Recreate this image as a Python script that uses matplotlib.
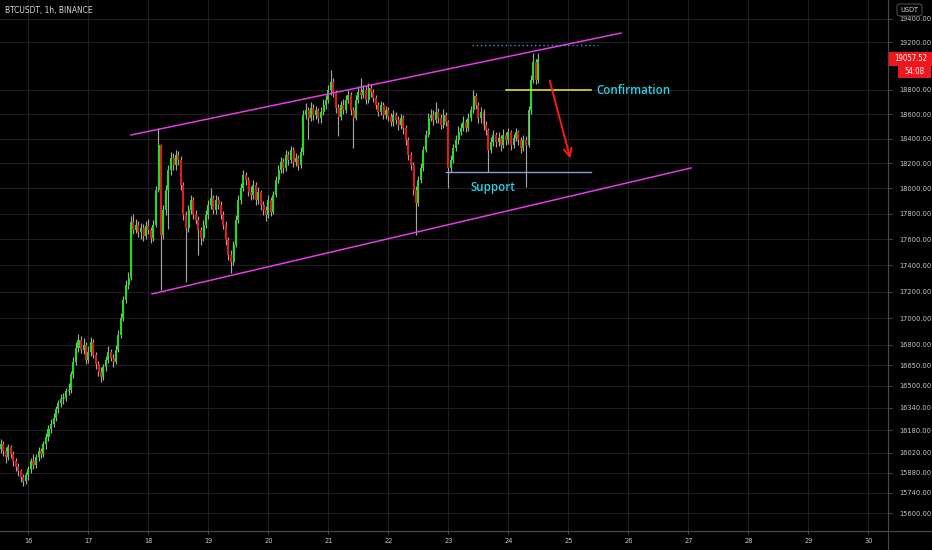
import numpy as np
import matplotlib
matplotlib.use("Agg")
import matplotlib.pyplot as plt
from matplotlib import font_manager
from matplotlib.font_manager import FontProperties
from matplotlib.lines import Line2D
from matplotlib.patches import Rectangle, FancyBboxPatch
from matplotlib.ticker import NullLocator

# ---------------- data ----------------
first_open = 16010
closes = [
    16044, 16079, 16030, 15988, 16058, 16009, 15960, 15918, 15890, 15848,
    15820, 15862, 15904, 15960, 15932, 15988, 16030, 16009, 16079, 16129,
    16186, 16228, 16271, 16329, 16372, 16401, 16415, 16459, 16473, 16583,
    16677, 16781, 16840, 16766, 16803, 16692, 16751, 16825, 16729, 16656,
    16604, 16561, 16634, 16692, 16751, 16707, 16677, 16766, 16877, 17004,
    17139, 17252, 17305, 17737, 17675, 17714, 17659, 17690, 17628, 17706,
    17675, 17613, 17714, 17989, 18349, 17636, 17831, 17989, 18148, 18244,
    18188, 18268, 18228, 18028, 17792, 17690, 17831, 17910, 17792, 17753,
    17675, 17613, 17714, 17792, 17870, 17926, 17831, 17910, 17870, 17792,
    17714, 17597, 17481, 17428, 17558, 17753, 17910, 18005, 18108, 18068,
    17973, 17949, 18028, 17910, 17973, 17870, 17831, 17792, 17910, 17815,
    17949, 18068, 18148, 18212, 18164, 18268, 18228, 18308, 18212, 18244,
    18188, 18292, 18593, 18633, 18568, 18649, 18593, 18633, 18568, 18617,
    18674, 18716, 18798, 18864, 18781, 18649, 18576, 18674, 18633, 18716,
    18757, 18633, 18568, 18716, 18781, 18757, 18798, 18716, 18815, 18781,
    18732, 18674, 18617, 18674, 18593, 18633, 18576, 18536, 18593, 18552,
    18511, 18568, 18486, 18389, 18268, 18188, 17989, 17886, 18068, 18164,
    18308, 18430, 18568, 18593, 18552, 18617, 18568, 18511, 18593, 18536,
    18164, 18228, 18324, 18389, 18454, 18486, 18536, 18486, 18568, 18633,
    18749, 18674, 18568, 18617, 18511, 18470, 18308, 18373, 18430, 18373,
    18405, 18349, 18430, 18389, 18454, 18349, 18405, 18454, 18389, 18324,
    18389, 18349, 18633, 18881, 19031, 18881, 19057.52,
]
highs = [
    16090, 16120, 16100, 16060, 16085, 16075, 16030, 15985, 15950, 15905,
    15870, 15885, 15930, 15985, 16010, 16015, 16060, 16055, 16105, 16160,
    16215, 16260, 16300, 16355, 16400, 16440, 16450, 16485, 16520, 16610,
    16710, 16820, 16880, 16870, 16850, 16820, 16790, 16860, 16845, 16750,
    16680, 16640, 16660, 16720, 16790, 16770, 16735, 16800, 16910, 17040,
    17170, 17290, 17350, 17780, 17800, 17760, 17745, 17730, 17720, 17740,
    17760, 17700, 17750, 18020, 18486, 18360, 17870, 18030, 18190, 18290,
    18280, 18310, 18300, 18260, 18050, 17820, 17870, 17950, 17930, 17830,
    17780, 17700, 17750, 17830, 17910, 18000, 17950, 17950, 17940, 17900,
    17820, 17740, 17620, 17520, 17590, 17790, 17950, 18040, 18150, 18130,
    18090, 18020, 18070, 18050, 18010, 17990, 17900, 17860, 17950, 17930,
    17980, 18100, 18190, 18250, 18240, 18310, 18300, 18340, 18330, 18280,
    18270, 18330, 18630, 18690, 18660, 18700, 18680, 18670, 18650, 18660,
    18720, 18760, 18840, 18964, 18900, 18800, 18680, 18710, 18720, 18760,
    18800, 18780, 18660, 18760, 18830, 18900, 18840, 18830, 18860, 18850,
    18810, 18760, 18700, 18710, 18700, 18670, 18660, 18610, 18630, 18620,
    18580, 18600, 18590, 18510, 18410, 18290, 18210, 18020, 18100, 18200,
    18340, 18470, 18610, 18640, 18630, 18700, 18650, 18600, 18640, 18620,
    18550, 18270, 18360, 18430, 18500, 18530, 18580, 18560, 18610, 18670,
    18798, 18770, 18700, 18660, 18640, 18540, 18490, 18410, 18470, 18450,
    18450, 18430, 18480, 18450, 18490, 18470, 18440, 18490, 18470, 18410,
    18430, 18420, 18670, 18920, 19110, 19060, 19110,
]
lows = [
    15975, 16020, 15995, 15950, 15970, 15980, 15930, 15890, 15860, 15815,
    15785, 15800, 15830, 15880, 15905, 15915, 15965, 15980, 15990, 16050,
    16100, 16160, 16200, 16245, 16300, 16345, 16370, 16390, 16430, 16450,
    16560, 16650, 16750, 16740, 16730, 16660, 16670, 16720, 16700, 16620,
    16575, 16530, 16540, 16610, 16670, 16680, 16640, 16660, 16745, 16850,
    16980, 17110, 17220, 17290, 17640, 17650, 17620, 17600, 17590, 17600,
    17640, 17570, 17590, 17700, 17970, 17214, 17600, 17790, 17680, 18110,
    18150, 18150, 18190, 17990, 17750, 17275, 17660, 17800, 17760, 17720,
    17480, 17560, 17590, 17690, 17760, 17840, 17800, 17800, 17840, 17760,
    17680, 17560, 17440, 17344, 17400, 17540, 17730, 17880, 17980, 18030,
    17940, 17910, 17920, 17870, 17880, 17830, 17790, 17740, 17770, 17780,
    17800, 17930, 18040, 18120, 18120, 18140, 18190, 18200, 18170, 18180,
    18150, 18160, 18270, 18560, 18400, 18540, 18550, 18560, 18530, 18530,
    18590, 18640, 18690, 18760, 18740, 18610, 18420, 18550, 18600, 18610,
    18690, 18590, 18320, 18550, 18690, 18720, 18730, 18680, 18690, 18740,
    18700, 18640, 18580, 18590, 18560, 18560, 18540, 18500, 18500, 18520,
    18470, 18480, 18440, 18350, 18230, 18150, 17950, 17636, 17860, 18040,
    18140, 18290, 18410, 18540, 18510, 18530, 18530, 18480, 18490, 18500,
    18005, 18130, 18200, 18300, 18360, 18430, 18460, 18450, 18460, 18540,
    18610, 18640, 18530, 18530, 18470, 18430, 18132, 18280, 18340, 18330,
    18340, 18300, 18320, 18350, 18360, 18310, 18320, 18380, 18350, 18280,
    18300, 18013, 18330, 18600, 18860, 18850, 18860,
]
start_day = 15.5          # Nov 15, 12:00, one candle per hour
price_ticks = [15600, 15740, 15880, 16020, 16180, 16340, 16500, 16650, 16800,
               17000, 17200, 17400, 17600, 17800, 18000, 18200, 18400, 18600,
               18800, 19200, 19400]
day_ticks = list(range(16, 31))
day_labels = [str(d) for d in day_ticks]

# drawings (day, price)
upper_channel = [(17.708, 18429), (25.875, 19276)]
lower_channel = [(18.058, 17182), (27.042, 18163)]
top_dotted = [(23.392, 19175), (25.492, 19175)]
confirm_line = [(23.958, 18798), (25.375, 18798)]
support_line = [(22.958, 18132), (25.375, 18132)]
arrow_pts = [(24.675, 18898), (25.042, 18219)]

# ---------------- fonts ----------------
def pick_narrow():
    cands = []
    for f in font_manager.fontManager.ttflist:
        nm = f.name.lower()
        fn = f.fname.lower()
        narrowish = (f.stretch in ("condensed", "semi-condensed", "extra-condensed")
                     or "narrow" in nm or "condensed" in nm
                     or "condensed" in fn or "narrow" in fn)
        if not narrowish or f.style != "normal":
            continue
        if "serif" in nm or "serif" in fn or "mono" in nm or "mono" in fn:
            continue
        if "sans" not in nm:
            continue
        w = f.weight
        if w not in (400, "normal", "regular", "book"):
            continue
        if "bold" in fn or "light" in fn or "medium" in fn or "thin" in fn \
                or "black" in fn or "semi" in fn.replace("semicondensed", "") \
                or "oblique" in fn or "italic" in fn:
            continue
        if "dejavu" in nm:
            score = 3
        elif "liberation" in nm:
            score = 2
        elif "noto sans" in nm and "cjk" not in nm:
            score = 1
        else:
            continue
        cands.append((score, f.fname))
    if cands:
        cands.sort(reverse=True)
        return cands[0][1]
    return None

narrow_file = pick_narrow()
if narrow_file:
    def nfp(size):
        return FontProperties(fname=narrow_file, size=size)
    tick_size = 5.3
else:
    def nfp(size):
        return FontProperties(family="DejaVu Sans", size=size)
    tick_size = 4.8

# ---------------- figure ----------------
W, H = 932, 550
fig = plt.figure(figsize=(W / 100, H / 100), dpi=100, facecolor="black")
ax = fig.add_axes([0, 20 / H, 888 / W, 530 / H], facecolor="black")

n = min(len(closes), len(highs), len(lows))
closes_a = np.array(closes[:n], dtype=float)
highs_a = np.array(highs[:n], dtype=float)
lows_a = np.array(lows[:n], dtype=float)
opens_a = np.concatenate([[first_open], closes_a[:-1]])
t = start_day + np.arange(n) / 24.0

up = closes_a >= opens_a
green, red, wick = "#1fe01f", "#e5191c", "#a5a5a5"
ax.vlines(t, lows_a, highs_a, color=wick, lw=0.85, zorder=2)
bottoms = np.minimum(opens_a, closes_a)
heights = np.maximum(np.abs(closes_a - opens_a), 3)
ax.bar(t, heights, bottom=bottoms, width=0.8 / 24,
       color=np.where(up, green, red), linewidth=0, zorder=3)

ax.set_yscale("log")
ax.set_ylim(15484, 19559)
ax.set_xlim(15.525, 30.325)

ax.yaxis.set_minor_locator(NullLocator())
ax.xaxis.set_minor_locator(NullLocator())
ax.yaxis.tick_right()
ax.set_yticks(price_ticks)
ax.set_yticklabels([f"{v:.2f}" for v in price_ticks])
ax.set_xticks(day_ticks)
ax.set_xticklabels(day_labels)
ax.tick_params(axis="both", colors="#555555", labelcolor="#c8c8c8",
               length=3, width=0.6, direction="out")
ax.tick_params(axis="y", pad=5)
ax.tick_params(axis="x", pad=3)
for lab in ax.get_yticklabels() + ax.get_xticklabels():
    lab.set_fontproperties(nfp(tick_size))
ax.grid(True, color="#1e1e1e", lw=0.8, zorder=0)
for s in ax.spines.values():
    s.set_visible(False)

# drawings
mag = "#e23de6"
ax.plot(*zip(*upper_channel), color=mag, lw=1.1, zorder=4)
ax.plot(*zip(*lower_channel), color=mag, lw=1.1, zorder=4)
ax.plot(*zip(*top_dotted), color="#4a8ee0", lw=1.0, ls=(0, (1, 2)), zorder=4)
ax.plot(*zip(*confirm_line), color="#f2f21c", lw=1.1, zorder=4)
ax.plot(*zip(*support_line), color="#7ea6d8", lw=1.0, zorder=4)
ax.annotate("", xy=arrow_pts[1], xytext=arrow_pts[0],
            arrowprops=dict(arrowstyle="->", color="#ff1a1a", lw=1.4,
                            mutation_scale=14), zorder=5)
ax.text(25.458, 18790, "Confirmation", color="#2ad4e6", fontsize=8.3,
        fontweight="semibold", family="Open Sans", va="center", ha="left", zorder=5)
ax.text(23.358, 18005, "Support", color="#2ad4e6", fontsize=8.3,
        fontweight="semibold", family="Open Sans", va="center", ha="left", zorder=5)

# frame lines
def fx(x):
    return x / W
def fy(y):
    return 1 - y / H
fig.add_artist(Line2D([fx(888), fx(888)], [0, 1], color="#4a4a4a", lw=0.8))
fig.add_artist(Line2D([0, 1], [fy(530.5), fy(530.5)], color="#4a4a4a", lw=0.8))

# title
fig.text(fx(5), fy(11), "BTCUSDT, 1h, BINANCE", color="#d8d8d8",
         fontproperties=nfp(6.0), va="center", ha="left")

# USDT box
fig.add_artist(FancyBboxPatch((fx(897), fy(16)), fx(25), 12 / H,
                              boxstyle="round,pad=0,rounding_size=0.004",
                              fc="black", ec="#555555", lw=0.7, zorder=6))
fig.text(fx(909.5), fy(10), "USDT", color="#d8d8d8", fontproperties=nfp(5.2),
         ha="center", va="center", zorder=7)

# last price label
last_disp = ax.transData.transform((t[-1], closes_a[-1]))
ly = fig.transFigure.inverted().transform(last_disp)[1]
fig.add_artist(Rectangle((fx(889), ly - 7 / H), fx(43), 14 / H, fc="#f0161c", ec="none", zorder=6))
fig.text(fx(910.5), ly, f"{closes_a[-1]:.2f}", color="white",
         fontproperties=nfp(tick_size + 0.3), ha="center", va="center", zorder=7)
fig.add_artist(Rectangle((fx(898), ly - 19 / H), fx(33), 12 / H, fc="#f0161c", ec="none", zorder=6))
fig.text(fx(914.5), ly - 13 / H, "54:08", color="white",
         fontproperties=nfp(tick_size + 0.3), ha="center", va="center", zorder=7)

fig.savefig("out.png", dpi=100, facecolor="black")
